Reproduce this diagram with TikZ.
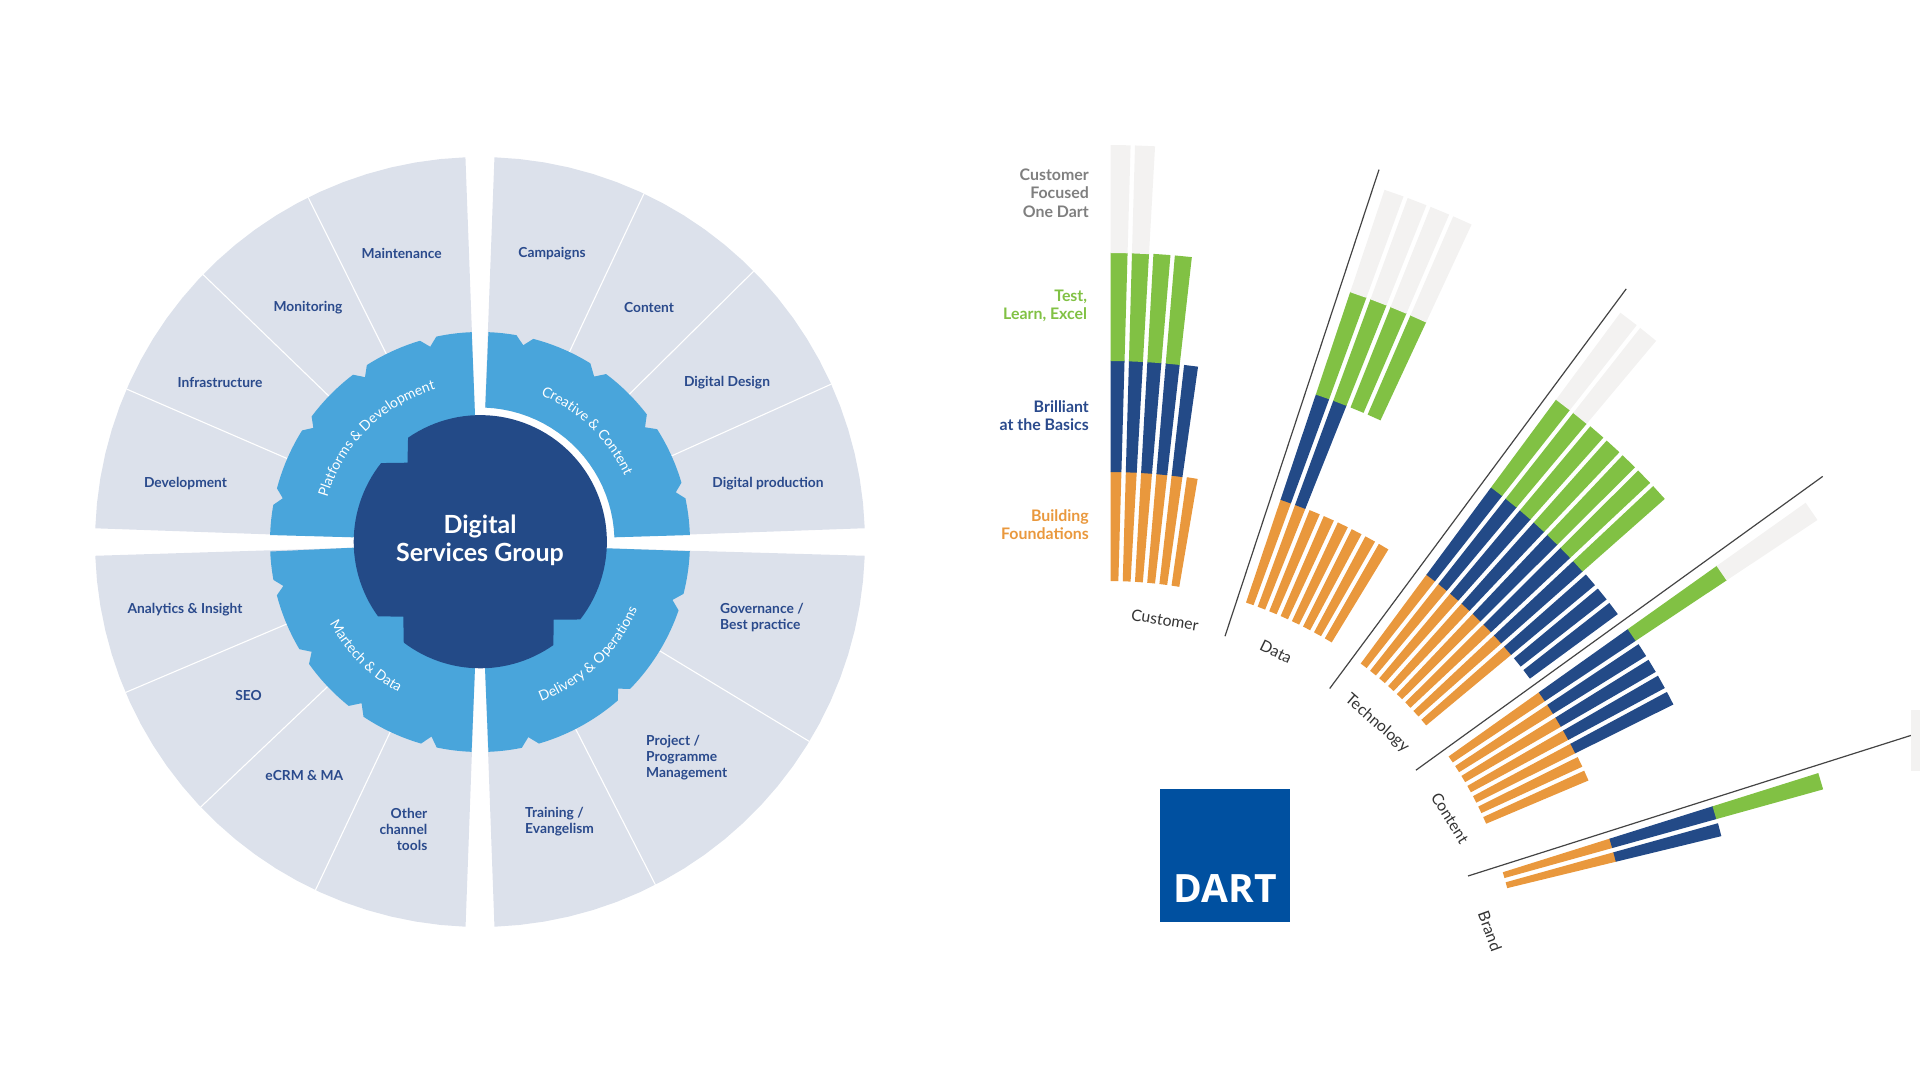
\documentclass[tikz,border=0pt]{standalone}
\usepackage{fontspec}
\setmainfont{Lato}
\newfontfamily\dartfont{Open Sans}
\usetikzlibrary{decorations.text}
\definecolor{sectorgray}{HTML}{DCE1EB}
\definecolor{ringblue}{HTML}{49A5DB}
\definecolor{darkblue}{HTML}{234A87}
\definecolor{navytext}{HTML}{2A4A8C}
\definecolor{orangebar}{HTML}{E9983D}
\definecolor{greenbar}{HTML}{81C144}
\definecolor{palebar}{HTML}{F3F2F1}
\definecolor{dartblue}{HTML}{0050A0}
\definecolor{graytext}{HTML}{7F7F7F}
\definecolor{sepline}{HTML}{444444}
\def\cx{480}\def\cy{542}
\newcommand\pol[2]{({\cx+(#2)*cos(#1)},{\cy-(#2)*sin(#1)})}
\newcommand\arcat[3]{-- plot[domain=#1:#2,samples=24] ({\cx+(#3)*cos(\x)},{\cy-(#3)*sin(\x)})}
% one bar segment of a fan; fan parameters in \gx \gy \ga \gd \gw
\newcommand\seg[4]{%
  \pgfmathsetmacro\aL{\ga+(#1)*\gd}%
  \pgfmathsetmacro\aR{\ga+(#1+1)*\gd}%
  \fill[#4]
    ({\gx+(#2)*sin(\aL)+\gw*cos(\aL)},{\gy-(#2)*cos(\aL)+\gw*sin(\aL)}) --
    ({\gx+(#3)*sin(\aL)+\gw*cos(\aL)},{\gy-(#3)*cos(\aL)+\gw*sin(\aL)}) --
    ({\gx+(#3)*sin(\aR)-\gw*cos(\aR)},{\gy-(#3)*cos(\aR)-\gw*sin(\aR)}) --
    ({\gx+(#2)*sin(\aR)-\gw*cos(\aR)},{\gy-(#2)*cos(\aR)-\gw*sin(\aR)}) -- cycle;}
\newcommand\stackbars[4]{\foreach \i in {#1} {\seg{\i}{#2}{#3}{#4}}}
\newcommand\fan[5]{\def\gx{#1}\def\gy{#2}\def\ga{#3}\def\gd{#4}\def\gw{#5}}
\tikzset{
  sector/.style={fill=sectorgray},
  ringpart/.style={fill=ringblue},
  divider/.style={draw=white,line width=1.1pt},
  wheellabel/.style={text=navytext,font=\fontsize{13.8}{16}\selectfont\bfseries,align=center,inner sep=0pt},
  wheellabelL/.style={wheellabel,align=left},
  wheellabelR/.style={wheellabel,align=right},
  legendlabel/.style={font=\fontsize{15.9}{18.6}\selectfont\bfseries,align=right,anchor=east,inner sep=0pt},
  fanlabel/.style={text=black!80,font=\fontsize{15.8}{17}\selectfont,inner sep=0pt},
  sep/.style={draw=sepline,line width=1.2pt},
  ringtext/.style={decorate,decoration={text along path,text align=center,text color=white,
     text={#1}}},
}
\newcommand\rf{|\fontsize{14}{15}\selectfont|}
\begin{document}
\begin{tikzpicture}[x=1pt,y=-1pt]
\useasboundingbox (0,0) rectangle (1920,1081);
% outer sectors
\fill[sector] (475,415) \arcat{92.17}{177.96}{385} -- (353,537.3) -- cycle;
\fill[sector] \pol{87.85}{134.5} \arcat{87.85}{2.05}{385} \arcat{2.05}{87.85}{134.5} -- cycle;
\fill[sector] (606.7,548.3) \arcat{-2.05}{-87.85}{385} -- (485,667.7) -- cycle;
\fill[sector] (475,667.7) \arcat{267.85}{182.05}{385} -- (353.3,547.7) -- cycle;
% dividers
\foreach \a in {116.5,136,156.6,64.8,44.7,24.2,-31.2,-62.9,203,223.5,244.7}
  \draw[divider] \pol{\a}{205} -- \pol{\a}{385};
% ring quadrants
\fill[ringpart] (475,415) \arcat{92.26}{102}{210} -- \pol{104.3}{201.5}
  \arcat{106.6}{122.6}{210} -- \pol{124.9}{201}
  \arcat{127.2}{143.3}{210} -- \pol{145.6}{202}
  \arcat{147.9}{165.2}{210} -- \pol{167.5}{202}
  \arcat{169.8}{178.1}{210} -- (353,537.3) -- cycle;
\fill[ringpart] \pol{87.75}{134.5} \arcat{87.7}{80}{210} -- \pol{77.6}{201.5}
  \arcat{75.3}{58.3}{210} -- \pol{55.4}{201}
  \arcat{53.1}{37.4}{210} -- \pol{34.8}{201}
  \arcat{32.5}{16.4}{210} -- \pol{14.25}{202}
  \arcat{12}{1.9}{210} \arcat{2}{87.75}{134.5} -- cycle;
\fill[ringpart] (606.7,548.3) \arcat{-2.5}{-14.3}{210} -- \pol{-16.75}{201}
  \arcat{-19}{-44.4}{210} -- \pol{-46.7}{201.5}
  \arcat{-49}{-73.7}{210} -- \pol{-76.1}{201}
  \arcat{-78.5}{-87.7}{210} -- (485,667.7) -- cycle;
\fill[ringpart] (475,667.7) \arcat{267.7}{258.1}{210} -- \pol{256}{200.5}
  \arcat{253.7}{236.3}{210} -- \pol{233.7}{200}
  \arcat{231.3}{215.5}{210} -- \pol{213.1}{201}
  \arcat{210.7}{194.7}{210} -- \pol{192.6}{201.5}
  \arcat{190.4}{182.6}{210} -- (353.3,547.7) -- cycle;
% central blob
\fill[darkblue] plot[domain=-37.9:124.8,samples=60] ({480.3+126.6*cos(\x)},{541.7-126.6*sin(\x)})
  -- (407.5,462.7)
  -- plot[domain=141.6:216.1,samples=30] ({480.3+126.6*cos(\x)},{541.7-126.6*sin(\x)})
  -- (403.3,616.7)
  -- plot[domain=232.8:305.25,samples=30] ({480.3+126.6*cos(\x)},{541.7-126.6*sin(\x)})
  -- (553.7,619.7) -- cycle;
\node[text=white,font=\fontsize{25}{28}\selectfont\bfseries,align=center,inner sep=0pt] (centre) at (480,540) {Digital\\Services Group};
% ring captions
\path[ringtext={\rf Platforms {\&} Development}] plot[domain=170:100,samples=70] ({\cx+159*cos(\x)},{\cy-159*sin(\x)});
\path[ringtext={\rf Creative {\&} Content}] plot[domain=81:11,samples=70] ({\cx+159*cos(\x)},{\cy-159*sin(\x)});
\path[ringtext={\rf Delivery {\&} Operations}] plot[domain=-80:-12,samples=70] ({\cx+171*cos(\x)},{\cy-171*sin(\x)});
\path[ringtext={\rf Martech {\&} Data}] plot[domain=190:260,samples=70] ({\cx+171*cos(\x)},{\cy-171*sin(\x)});
% sector labels
\node[wheellabel] (l1) at (401.7,253.5) {Maintenance};
\node[wheellabel] (l2) at (308,308) {Monitoring};
\node[wheellabel] (l3) at (220,382.8) {Infrastructure};
\node[wheellabel] (l4) at (185.5,483.8) {Development};
\node[wheellabel] (l5) at (552,254) {Campaigns};
\node[wheellabel] (l6) at (649,307.8) {Content};
\node[wheellabel] (l7) at (727,382.8) {Digital Design};
\node[wheellabel] (l8) at (768,483.8) {Digital production};
\node[wheellabelL,anchor=west] (l9) at (720,618) {Governance /\\Best practice};
\node[wheellabelL,anchor=west] (l10) at (646,758) {Project /\\Programme\\Management};
\node[wheellabelL,anchor=west] (l11) at (525,822) {Training /\\Evangelism};
\node[wheellabelR,anchor=east] (l12) at (427.5,829) {Other\\channel\\tools};
\node[wheellabel] (l13) at (304.3,775.6) {eCRM \& MA};
\node[wheellabel] (l14) at (248.6,696) {SEO};
\node[wheellabel] (l15) at (185,609.4) {Analytics \& Insight};
% legend
\node[legendlabel,text=graytext] (lgA) at (1089,193) {Customer\\Focused\\One Dart};
\node[legendlabel,text=greenbar] (lgB) at (1087.3,306) {Test,\\Learn, Excel};
\node[legendlabel,text=navytext] (lgC) at (1089,415.7) {Brilliant\\at the Basics};
\node[legendlabel,text=orangebar] (lgD) at (1089,524.7) {Building\\Foundations};
% customer fan
\fan{1108.3}{1017}{0}{1.61}{2.2}
\stackbars{0,...,5}{436}{545.5}{orangebar}
\stackbars{0,...,4}{545}{656.5}{darkblue}
\stackbars{0,...,3}{656}{764.5}{greenbar}
\stackbars{0,1}{764}{872}{palebar}
% data fan
\fan{1102.8}{1022.4}{18.55}{1.6}{2.2}
\stackbars{0,...,7}{443.6}{552.5}{orangebar}
\stackbars{0,1}{552}{663.5}{darkblue}
\stackbars{0,...,3}{663}{771.5}{greenbar}
\stackbars{0,...,3}{771}{879}{palebar}
% technology fan
\fan{1124.3}{979.2}{36.51}{1.72}{2.2}
\stackbars{0,...,7}{394.4}{505.3}{orangebar}
\stackbars{0,...,9}{504.8}{613.9}{darkblue}
\stackbars{0,...,6}{613.4}{723.1}{greenbar}
\stackbars{0,1}{722.6}{830.9}{palebar}
% content fan
\fan{1142.5}{971.3}{54.6}{1.785}{2.2}
\stackbars{0,...,6}{374}{485.1}{orangebar}
\stackbars{0,...,4}{484.6}{594.2}{darkblue}
\stackbars{0}{593.7}{703.3}{greenbar}
\stackbars{0}{702.8}{812}{palebar}
% brand fan
\fan{1201.6}{964.6}{72.55}{1.9}{2.2}
\stackbars{0,1}{315}{427.3}{orangebar}
\stackbars{0,1}{426.8}{535.4}{darkblue}
\stackbars{0}{534.9}{645.8}{greenbar}
% separators
\coordinate (s1a) at (1225,636.2); \coordinate (s1b) at (1379,169.6);
\coordinate (s2a) at (1329.7,688.5); \coordinate (s2b) at (1626.2,288.9);
\coordinate (s3a) at (1415.9,770.2); \coordinate (s3b) at (1822.7,476.4);
\coordinate (s4a) at (1468,876); \coordinate (s4b) at (1911,735.4);
\draw[sep] (s1a) -- (s1b);
\draw[sep] (s2a) -- (s2b);
\draw[sep] (s3a) -- (s3b);
\draw[sep] (s4a) -- (s4b);
% fan labels
\node[fanlabel,rotate=-9] (f1) at (1165,620) {Customer};
\node[fanlabel,rotate=-26] (f2) at (1276,652) {Data};
\node[fanlabel,rotate=-41] (f3) at (1377,723.5) {Technology};
\node[fanlabel,rotate=-58] (f4) at (1450,818) {Content};
\node[fanlabel,rotate=-70] (f5) at (1490,931) {Brand};
% logo
\node[fill=dartblue,minimum width=130.4pt,minimum height=133pt,anchor=north west,inner sep=0pt] (dart) at (1159.3,788.3) {};
\node[text=white,font=\dartfont\fontsize{39}{40}\selectfont\bfseries,anchor=base,inner sep=0pt] (darttxt) at (1225.5,902.2) {DART};
% clipped box at right edge
\fill[palebar] (1911,709.5) rectangle (1920,771);
\end{tikzpicture}
\end{document}
